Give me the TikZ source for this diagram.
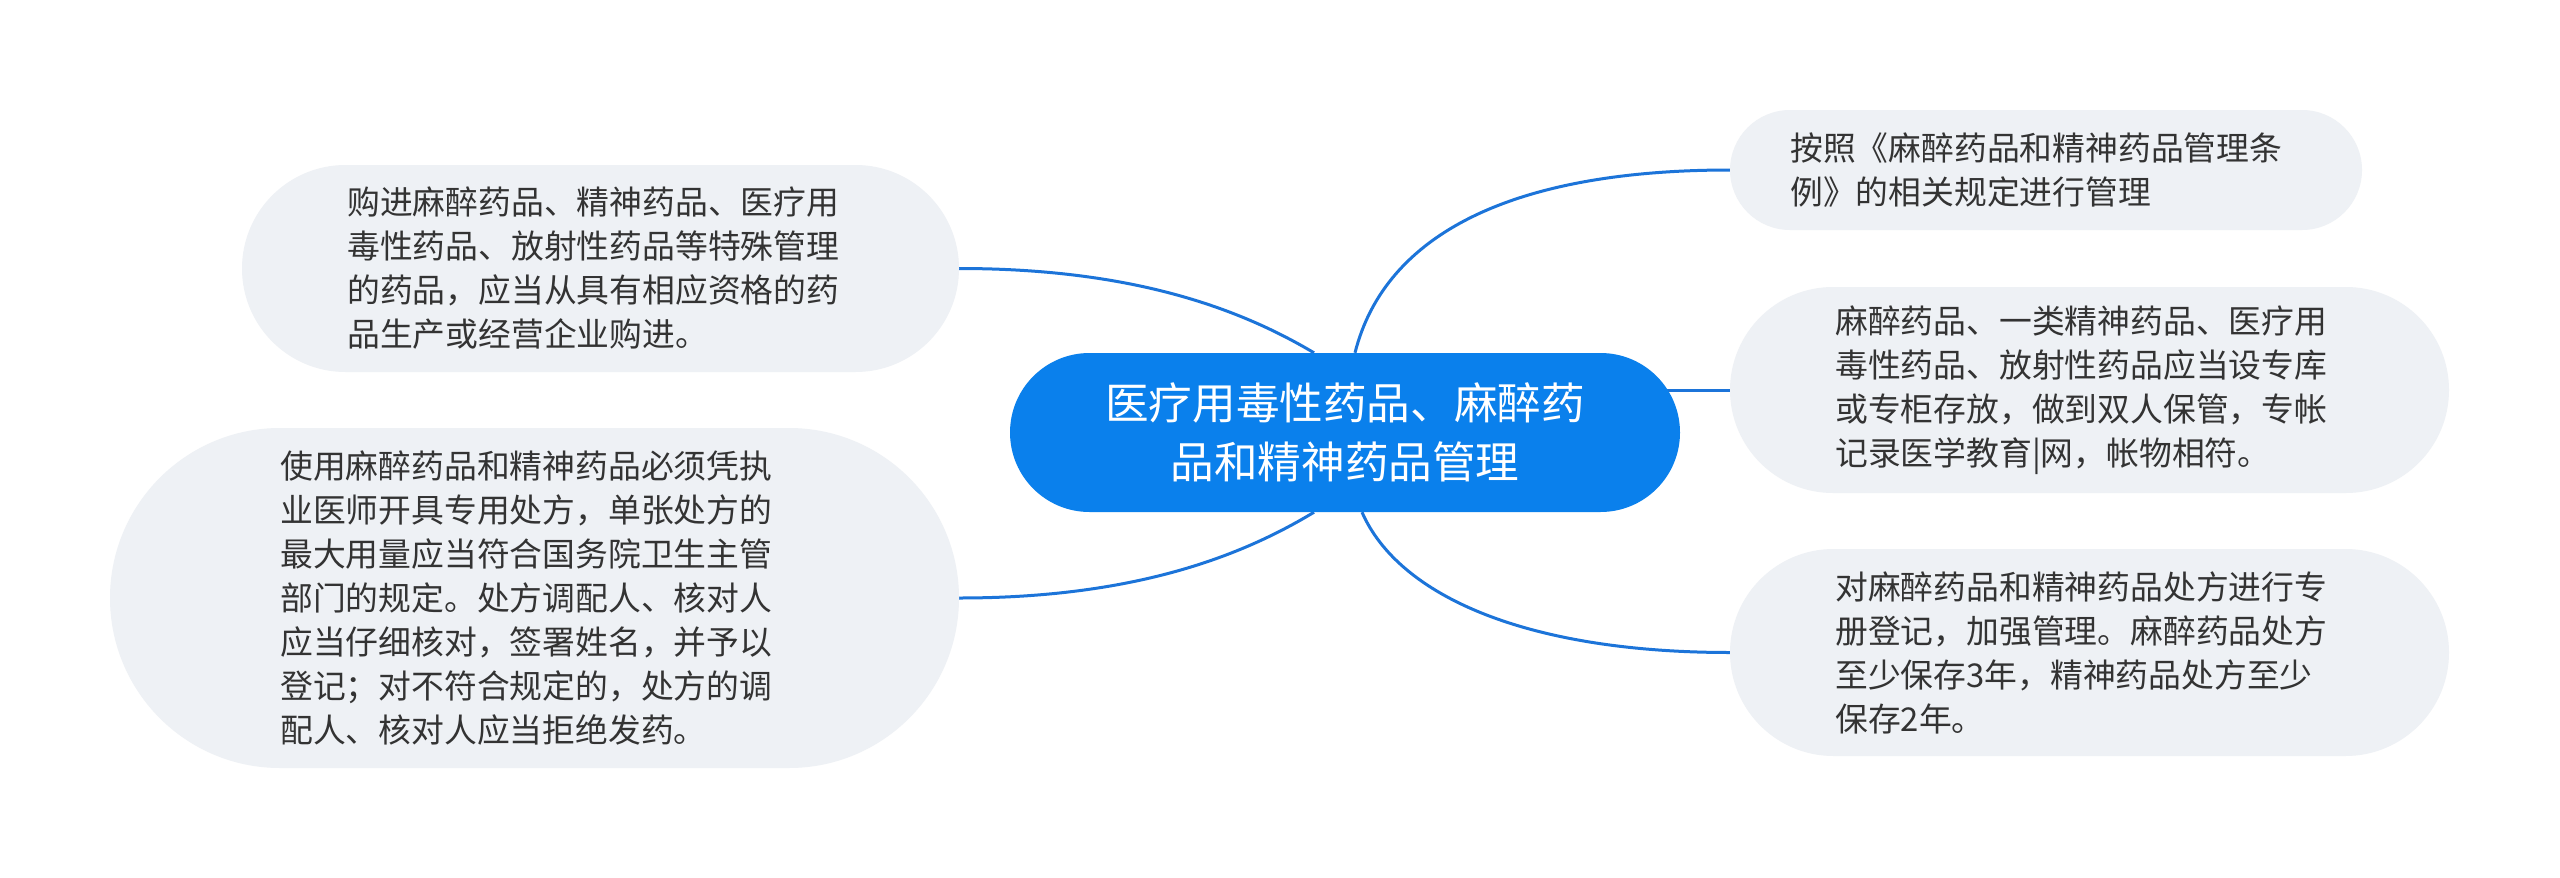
\documentclass[tikz,border=0pt]{standalone}
\usepackage{fontspec}
\newfontfamily\cjk{Noto Sans CJK SC}
\usetikzlibrary{calc}
\pgfdeclarelayer{background}
\pgfsetlayers{background,main}
\definecolor{mainblue}{HTML}{0A80EC}
\definecolor{linkblue}{HTML}{1C74D9}
\definecolor{leaffill}{HTML}{EEF1F5}
\definecolor{txt}{HTML}{333333}
\tikzset{
  leafbox/.style={fill=leaffill, draw=none, inner sep=0pt},
  leaftext/.style={anchor=west, inner sep=0pt, align=left, text=txt,
    font=\cjk\fontsize{32.8}{44}\selectfont},
  rootbox/.style={fill=mainblue, draw=none, inner sep=0pt, align=center, text=white,
    font=\cjk\fontsize{43.6}{59}\selectfont},
  link/.style={draw=linkblue, line width=3pt},
}
\newcommand\mmlink[5]{%
  \draw[link] let \p1=(#1), \p2=(#2) in
    (\p1) .. controls ({\x1+#3*(\x2-\x1)},{\y1+#4*(\y2-\y1)}) and ({\x1+#5*(\x2-\x1)},{\y2}) .. (\p2);}
\begin{document}
\begin{tikzpicture}[x=1pt,y=-1pt]
\useasboundingbox (0,0) rectangle (2560,878);
% root
\node[rootbox, minimum width=670pt, minimum height=159pt, rounded corners=79.5pt] (root) at (1345,432.5)
  {医疗用毒性药品、麻醉药\\品和精神药品管理};
% left leaves
\node[leafbox, minimum width=717pt, minimum height=207pt, rounded corners=103.5pt] (tl) at (600.5,268.5) {};
\node[leaftext] (tlt) at (347,268.5)
  {购进麻醉药品、精神药品、医疗用\\毒性药品、放射性药品等特殊管理\\的药品，应当从具有相应资格的药\\品生产或经营企业购进。};
\node[leafbox, minimum width=849pt, minimum height=340pt, rounded corners=170pt] (bl) at (534.5,598) {};
\node[leaftext] (blt) at (280,598)
  {使用麻醉药品和精神药品必须凭执\\业医师开具专用处方，单张处方的\\最大用量应当符合国务院卫生主管\\部门的规定。处方调配人、核对人\\应当仔细核对，签署姓名，并予以\\登记；对不符合规定的，处方的调\\配人、核对人应当拒绝发药。};
% right leaves
\node[leafbox, minimum width=632pt, minimum height=120pt, rounded corners=60pt] (r1) at (2046,170) {};
\node[leaftext] (r1t) at (1790,170)
  {按照《麻醉药品和精神药品管理条\\例》的相关规定进行管理};
\node[leafbox, minimum width=719pt, minimum height=206pt, rounded corners=103pt] (r2) at (2089.5,390) {};
\node[leaftext] (r2t) at (1835,390)
  {麻醉药品、一类精神药品、医疗用\\毒性药品、放射性药品应当设专库\\或专柜存放，做到双人保管，专帐\\记录医学教育|网，帐物相符。};
\node[leafbox, minimum width=719pt, minimum height=207pt, rounded corners=103.5pt] (r3) at (2089.5,652.5) {};
\node[leaftext] (r3t) at (1835,652.5)
  {对麻醉药品和精神药品处方进行专\\册登记，加强管理。麻醉药品处方\\至少保存3年，精神药品处方至少\\保存2年。};
% background and connectors
\begin{pgfonlayer}{background}
\fill[white] (0,0) rectangle (2560,878);
\mmlink{[xshift=-31pt]root.north}{tl.east}{0.2}{0.5}{0.5}
\mmlink{[xshift=-31pt]root.south}{bl.east}{0.2}{0.5}{0.5}
\mmlink{[xshift=10pt]root.north}{r1.west}{0.08}{0.65}{0.42}
\draw[link] (root.center |- r2.west) -- (r2.west);
\mmlink{[xshift=17pt]root.south}{r3.west}{0.1}{0.6}{0.45}
\end{pgfonlayer}
\end{tikzpicture}
\end{document}
